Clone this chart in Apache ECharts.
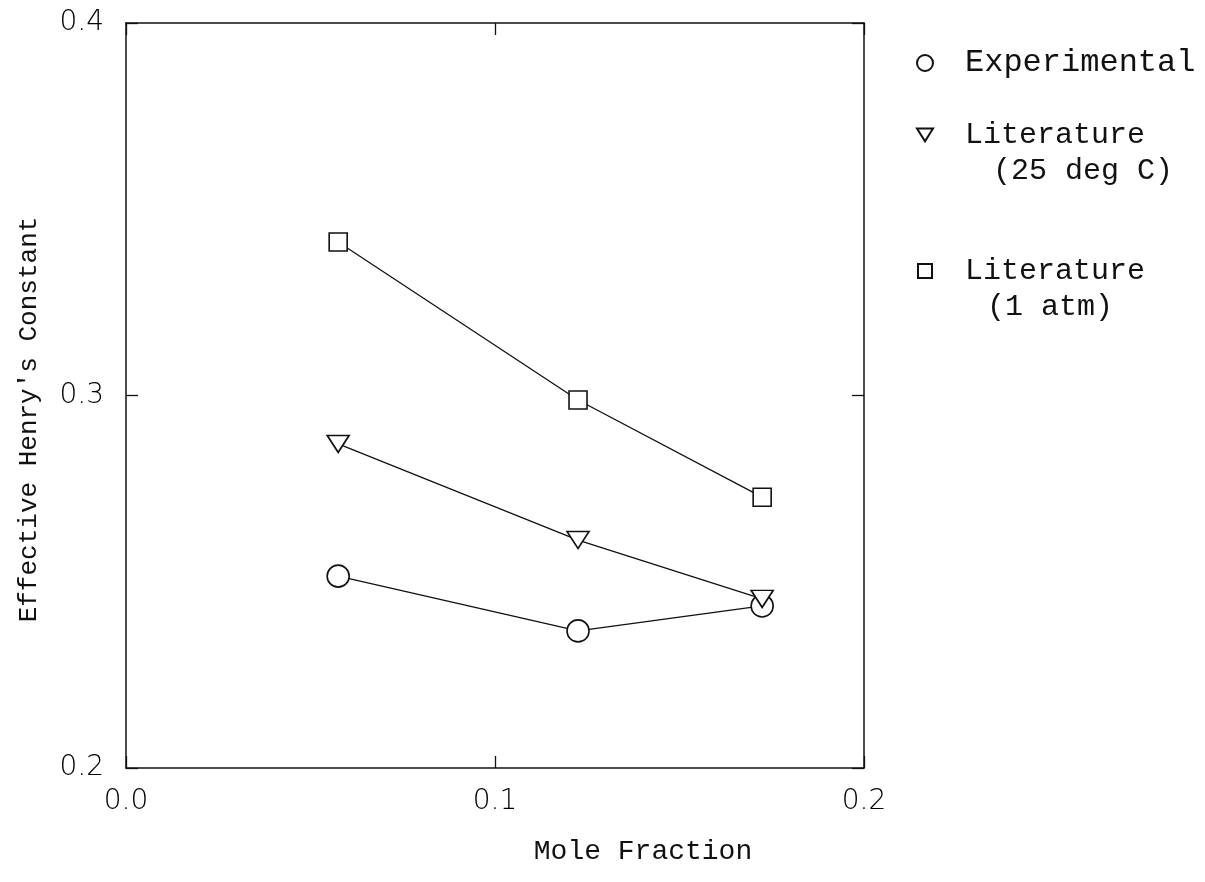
<!DOCTYPE html>
<html>
<head>
<meta charset="utf-8">
<title>Effective Henry's Constant vs Mole Fraction</title>
<script src="https://cdn.jsdelivr.net/npm/echarts@6/dist/echarts.min.js"></script>
<style>
  html, body { margin: 0; padding: 0; background: #fff; }
  #chart { width: 1205px; height: 882px; }
</style>
</head>
<body>
<div id="chart"></div>
<script>
// Mole fraction of each sample
const moleFraction = [0.0575, 0.1225, 0.1724];

// Effective Henry's constant for each data set
const experimental = [0.2515, 0.2368, 0.2435];
const literature25C = [0.2870, 0.2612, 0.2454];
const literature1atm = [0.3412, 0.2988, 0.2727];

const seriesNames = ['Experimental', 'Literature (25 deg C)', 'Literature (1 atm)'];
const legendLines = [['Experimental'], ['Literature', '(25 deg C)'], ['Literature', '(1 atm)']];

const xTicks = [0.0, 0.1, 0.2];
const yTicks = [0.2, 0.3, 0.4];

const MONO = '"Liberation Mono", "DejaVu Sans Mono", monospace';
const SANS = '"DejaVu Sans", "Liberation Sans", sans-serif';
const INK = '#111';

// downward-pointing triangle marker
const triDown = 'path://M0,0L20,0L10,16Z';

function pairs(ys) {
  return moleFraction.map((x, i) => [x, ys[i]]);
}

function makeSeries(name, ys, symbol, size) {
  return {
    name: name,
    type: 'line',
    data: pairs(ys),
    symbol: symbol,
    symbolSize: size,
    showSymbol: true,
    lineStyle: { color: INK, width: 1.3 },
    itemStyle: { color: '#fff', borderColor: INK, borderWidth: 1.6 },
    emphasis: { disabled: true },
    animation: false,
    z: 3
  };
}

const chart = echarts.init(document.getElementById('chart'), null, { renderer: 'canvas' });

const tickFmt = v => v.toFixed(1);

function legendFor(idx, icon, w, h, top, size) {
  return {
    data: [seriesNames[idx]],
    left: 916 - (w - 16) / 2,
    top: top,
    orient: 'vertical',
    icon: icon,
    itemWidth: w,
    itemHeight: h,
    selectedMode: false,
    padding: 0,
    formatter: () => legendLines[idx][0],
    textStyle: {
      fontFamily: MONO,
      fontSize: size,
      color: INK,
      padding: [0, 0, 0, 27 + (16 - w) / 2]
    }
  };
}

function frameAxis(extra) {
  return Object.assign({
    type: 'value',
    axisLine: { show: true, onZero: false, lineStyle: { color: INK, width: 1.5 } },
    axisTick: { show: true, inside: true, length: 12, lineStyle: { color: INK, width: 1.3 } },
    splitLine: { show: false }
  }, extra);
}

chart.setOption({
  backgroundColor: '#fff',
  animation: false,
  grid: { left: 126, right: 341, top: 23, bottom: 114, containLabel: false },
  xAxis: [
    frameAxis({
      position: 'bottom', min: 0, max: 0.2, interval: 0.1,
      name: 'Mole Fraction', nameLocation: 'middle', nameGap: 70,
      nameTextStyle: { fontFamily: MONO, fontSize: 28, color: INK, padding: [0, 0, 0, 296] },
      axisLabel: { margin: 20, fontFamily: SANS, fontWeight: 200, fontSize: 28, color: '#000', formatter: tickFmt }
    }),
    frameAxis({
      position: 'top', min: 0, max: 0.2, interval: 0.1,
      axisLabel: { show: false }
    })
  ],
  yAxis: [
    frameAxis({
      position: 'left', min: 0.2, max: 0.4, interval: 0.1,
      name: "Effective Henry's Constant", nameLocation: 'middle', nameGap: 84, nameRotate: 90,
      nameTextStyle: { fontFamily: MONO, fontSize: 26, color: INK, padding: [0, 48, 0, 0] },
      axisLabel: { margin: 22, fontFamily: SANS, fontWeight: 200, fontSize: 28, color: '#000', padding: [5, 0, 0, 0], formatter: tickFmt }
    }),
    frameAxis({
      position: 'right', min: 0.2, max: 0.4, interval: 0.1,
      axisLabel: { show: false }
    })
  ],
  legend: [
    legendFor(0, 'circle', 16, 16, 47, 32),
    legendFor(1, triDown, 16, 13, 120, 30),
    legendFor(2, 'rect', 14, 14, 256, 30)
  ],
  graphic: [
    { type: 'text', left: 993, top: 156, style: { text: legendLines[1][1], font: '30px ' + MONO, fill: INK } },
    { type: 'text', left: 987, top: 292, style: { text: legendLines[2][1], font: '30px ' + MONO, fill: INK } }
  ],
  series: [
    makeSeries(seriesNames[0], experimental, 'circle', 22),
    makeSeries(seriesNames[1], literature25C, triDown, [22, 17]),
    makeSeries(seriesNames[2], literature1atm, 'rect', 18)
  ]
});
</script>
</body>
</html>
